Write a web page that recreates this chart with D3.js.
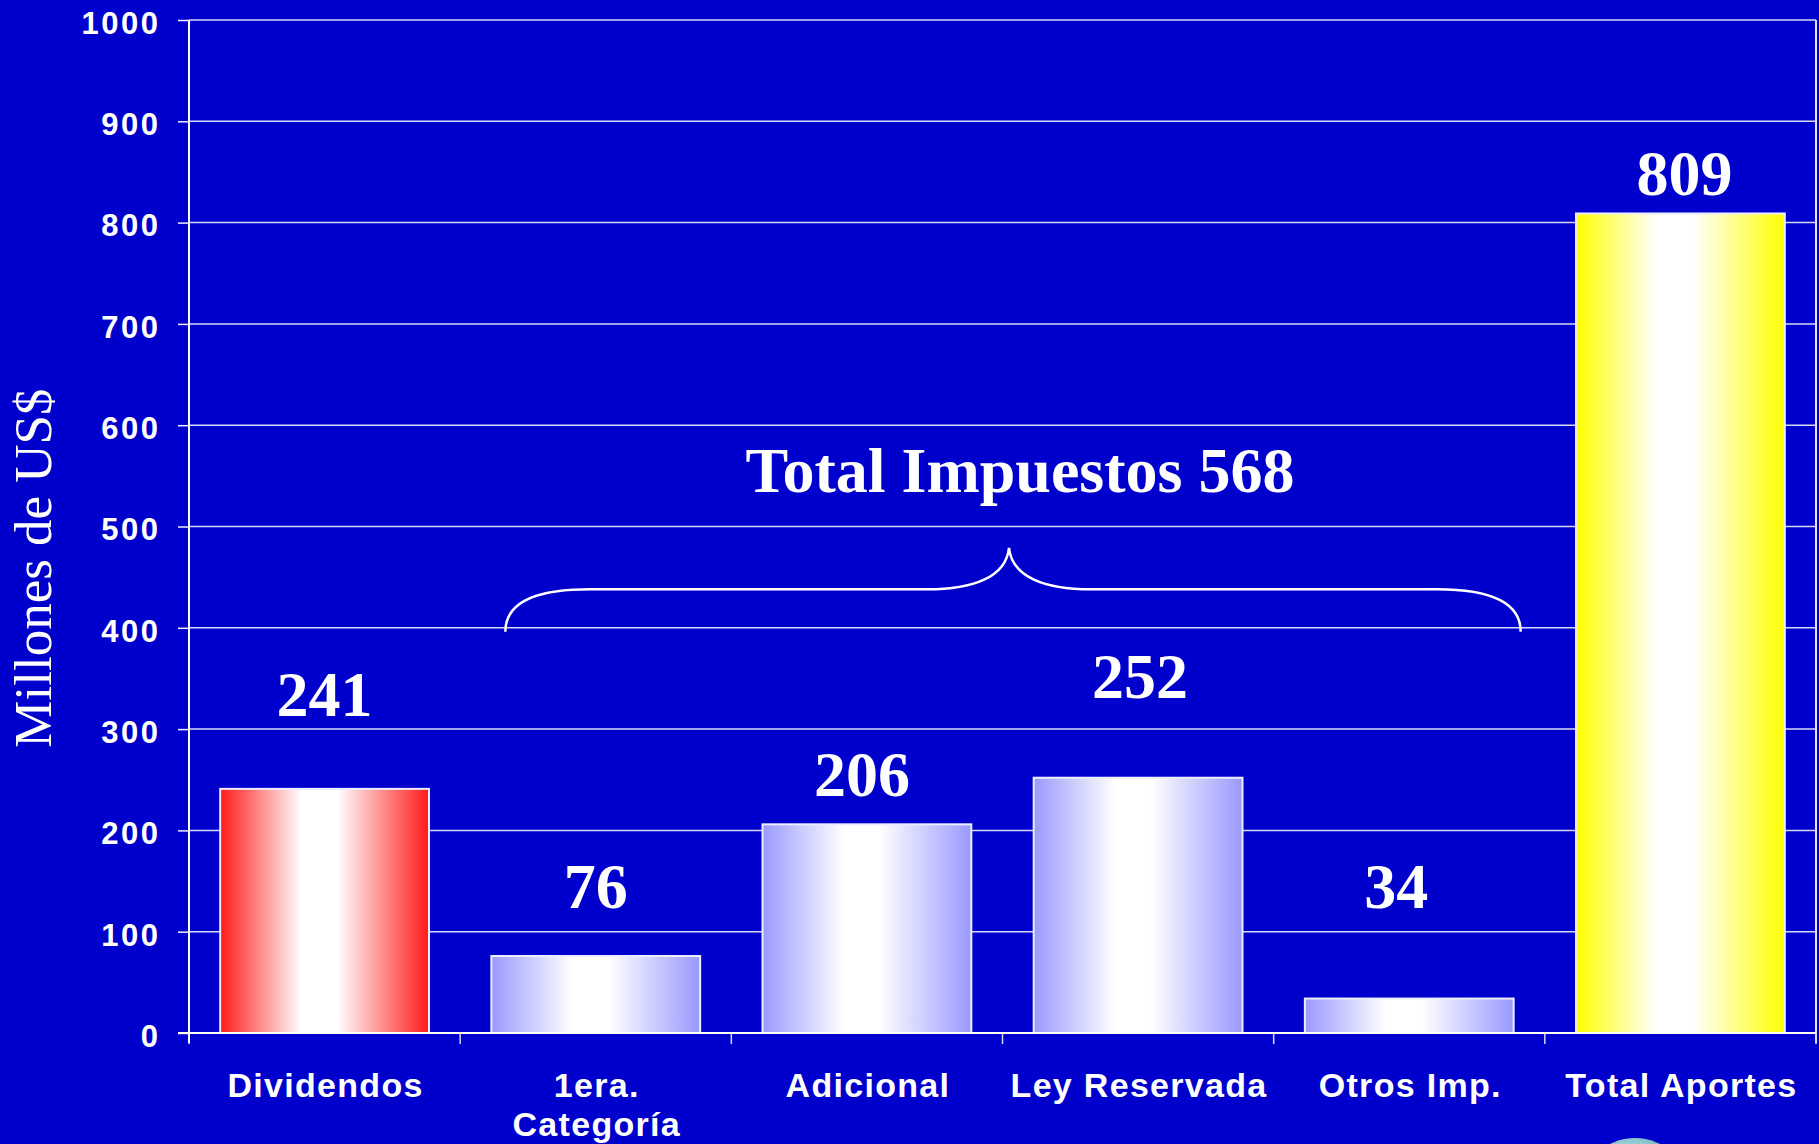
<!DOCTYPE html>
<html>
<head>
<meta charset="utf-8">
<script src="https://cdn.jsdelivr.net/npm/d3@7"></script>
<style>
    body { margin: 0; background: #0000cc; }
    svg { display: block; }
    .tick-label { font-family: "Liberation Sans", Arial, sans-serif; font-weight: bold; fill: #fff; }
    .value-label { font-family: "Liberation Serif", "Times New Roman", serif; font-weight: bold; fill: #fff; }
</style>
</head>
<body>
<svg id="chart"></svg>
<script>
// chart values
const categories = ['Dividendos', '1era.\nCategoría', 'Adicional', 'Ley Reservada', 'Otros Imp.', 'Total Aportes'];
const values = [241, 76, 206, 252, 34, 809];
const barKinds = ['dividend', 'tax', 'tax', 'tax', 'tax', 'total'];
const taxCategories = ['1era.\nCategoría', 'Adicional', 'Ley Reservada', 'Otros Imp.'];
const yTicks = [0, 100, 200, 300, 400, 500, 600, 700, 800, 900, 1000];
const yTitle = 'Millones de US$';
const taxTitle = 'Total Impuestos';

const data = categories.map((c, i) => ({category: c, value: values[i], kind: barKinds[i]}));

const width = 1819, height = 1144;
const margin = {top: 20, right: 3, bottom: 111, left: 189};
const innerW = width - margin.left - margin.right;
const innerH = height - margin.top - margin.bottom;

const svg = d3.select('#chart')
    .attr('width', width)
    .attr('height', height);

// gradients (edge -> white band -> edge)
const defs = svg.append('defs');
const gradColors = {dividend: '#ff1a1a', tax: '#9999ff', total: '#ffff00'};
Object.entries(gradColors).forEach(([k, c]) => {
    const g = defs.append('linearGradient').attr('id', 'grad-' + k)
        .attr('x1', '0%').attr('x2', '100%').attr('y1', '0%').attr('y2', '0%');
    g.append('stop').attr('offset', '0%').attr('stop-color', c);
    g.append('stop').attr('offset', '39%').attr('stop-color', '#ffffff');
    g.append('stop').attr('offset', '56%').attr('stop-color', '#ffffff');
    g.append('stop').attr('offset', '100%').attr('stop-color', c);
});
const globe = defs.append('radialGradient').attr('id', 'globe')
    .attr('cx', '45%').attr('cy', '30%').attr('r', '60%');
globe.append('stop').attr('offset', '0%').attr('stop-color', '#e6fbff');
globe.append('stop').attr('offset', '100%').attr('stop-color', '#2f8c9a');

const g = svg.append('g')
    .attr('transform', `translate(${margin.left},${margin.top})`);

const xScale = d3.scaleBand()
    .domain(categories)
    .range([0, innerW])
    .paddingInner(0.23)
    .paddingOuter(0.115);

const yScale = d3.scaleLinear()
    .domain([0, 1000])
    .range([innerH, 0]);

// gridlines + left ticks
const yAxis = d3.axisLeft(yScale)
    .tickValues(yTicks)
    .tickSize(11)
    .tickPadding(17.5)
    .tickFormat(d3.format('d'));

const yAxisG = g.append('g').call(yAxis);
yAxisG.select('.domain').remove();
yAxisG.selectAll('line').attr('stroke', '#f0f0ff').attr('stroke-width', 1.5);
yAxisG.selectAll('text')
    .attr('class', 'tick-label')
    .attr('font-size', 31)
    .attr('letter-spacing', 2.5)
    .attr('dy', '0.43em');

g.append('g')
    .selectAll('line')
    .data(yTicks.filter(t => t > 0))
    .join('line')
        .attr('x1', 0)
        .attr('x2', innerW)
        .attr('y1', d => yScale(d))
        .attr('y2', d => yScale(d))
        .attr('stroke', '#f0f0ff')
        .attr('stroke-opacity', 0.9)
        .attr('stroke-width', 1.5);

// right border
g.append('line')
    .attr('x1', innerW).attr('x2', innerW)
    .attr('y1', 0).attr('y2', innerH + 10)
    .attr('stroke', '#e0e0ff').attr('stroke-width', 2);

// category boundary ticks
const step = xScale.step();
g.append('g')
    .selectAll('line')
    .data(d3.range(categories.length + 1))
    .join('line')
        .attr('x1', i => i * step)
        .attr('x2', i => i * step)
        .attr('y1', innerH)
        .attr('y2', innerH + 11)
        .attr('stroke', '#d8d8ff')
        .attr('stroke-width', 1.5);

// bars
g.append('g')
    .selectAll('rect')
    .data(data)
    .join('rect')
        .attr('x', d => xScale(d.category))
        .attr('y', d => yScale(d.value))
        .attr('width', xScale.bandwidth())
        .attr('height', d => innerH - yScale(d.value))
        .attr('fill', d => `url(#grad-${d.kind})`)
        .attr('stroke', '#ececff')
        .attr('stroke-width', 2);

// axes lines
g.append('line')
    .attr('x1', 0).attr('x2', 0)
    .attr('y1', 0).attr('y2', innerH + 10)
    .attr('stroke', '#ffffff').attr('stroke-width', 2);
g.append('line')
    .attr('x1', -11).attr('x2', innerW)
    .attr('y1', innerH).attr('y2', innerH)
    .attr('stroke', '#ffffff').attr('stroke-width', 2);

// category labels
const catLabels = g.append('g')
    .selectAll('text')
    .data(categories)
    .join('text')
        .attr('class', 'tick-label')
        .attr('font-size', 34)
        .attr('letter-spacing', 1.3)
        .attr('text-anchor', 'middle')
        .attr('x', d => xScale(d) + xScale.bandwidth() / 2 + 1)
        .attr('y', innerH + 64);
catLabels.selectAll('tspan')
    .data(d => d.split('\n'))
    .join('tspan')
        .attr('x', function() { return d3.select(this.parentNode).attr('x'); })
        .attr('dy', (d, i) => i === 0 ? 0 : 39)
        .text(d => d);

// value labels (lift above bar top, as placed on the slide)
const labelLift = [73, 48, 28, 80, 91, 18];
const labelNudge = [0, 0, -5, 2, -13, 4];
g.append('g')
    .selectAll('text')
    .data(data)
    .join('text')
        .attr('class', 'value-label')
        .attr('font-size', 64)
        .attr('text-anchor', 'middle')
        .attr('x', (d, i) => xScale(d.category) + xScale.bandwidth() / 2 + labelNudge[i])
        .attr('y', (d, i) => yScale(d.value) - labelLift[i])
        .text(d => d.value);

// brace over the tax bars
const taxTotal = d3.sum(data.filter(d => d.kind === 'tax'), d => d.value);
const bx0 = xScale(taxCategories[0]) + 14;
const bx1 = xScale(taxCategories[taxCategories.length - 1]) + xScale.bandwidth() + 7;
const bm = (bx0 + bx1) / 2 - 4;
const yEnd = yScale(396), yMid = yScale(438), yTip = yScale(479);
const brace = d3.path();
brace.moveTo(bx0, yEnd);
brace.bezierCurveTo(bx0, yEnd - 32, bx0 + 35, yMid, bx0 + 84, yMid);
brace.lineTo(bm - 82, yMid);
brace.bezierCurveTo(bm - 36, yMid, bm - 3, yMid - 12, bm, yTip);
brace.bezierCurveTo(bm + 3, yMid - 12, bm + 36, yMid, bm + 82, yMid);
brace.lineTo(bx1 - 84, yMid);
brace.bezierCurveTo(bx1 - 35, yMid, bx1, yEnd - 32, bx1, yEnd);
g.append('path')
    .attr('d', brace.toString())
    .attr('fill', 'none')
    .attr('stroke', '#ffffff')
    .attr('stroke-width', 2.5);

g.append('text')
    .attr('class', 'value-label')
    .attr('font-size', 64)
    .attr('text-anchor', 'middle')
    .attr('x', bm + 11)
    .attr('y', yScale(534))
    .text(`${taxTitle} ${taxTotal}`);

// y axis title
svg.append('text')
    .attr('transform', `translate(51,${margin.top + innerH * 0.541}) rotate(-90)`)
    .attr('text-anchor', 'middle')
    .attr('font-family', '"Liberation Serif", "Times New Roman", serif')
    .attr('font-size', 53)
    .attr('fill', '#ffffff')
    .text(yTitle);

// logo peeking at the bottom edge
svg.append('circle')
    .attr('cx', 1635)
    .attr('cy', 1193)
    .attr('r', 55)
    .attr('fill', 'url(#globe)');
</script>
</body>
</html>
